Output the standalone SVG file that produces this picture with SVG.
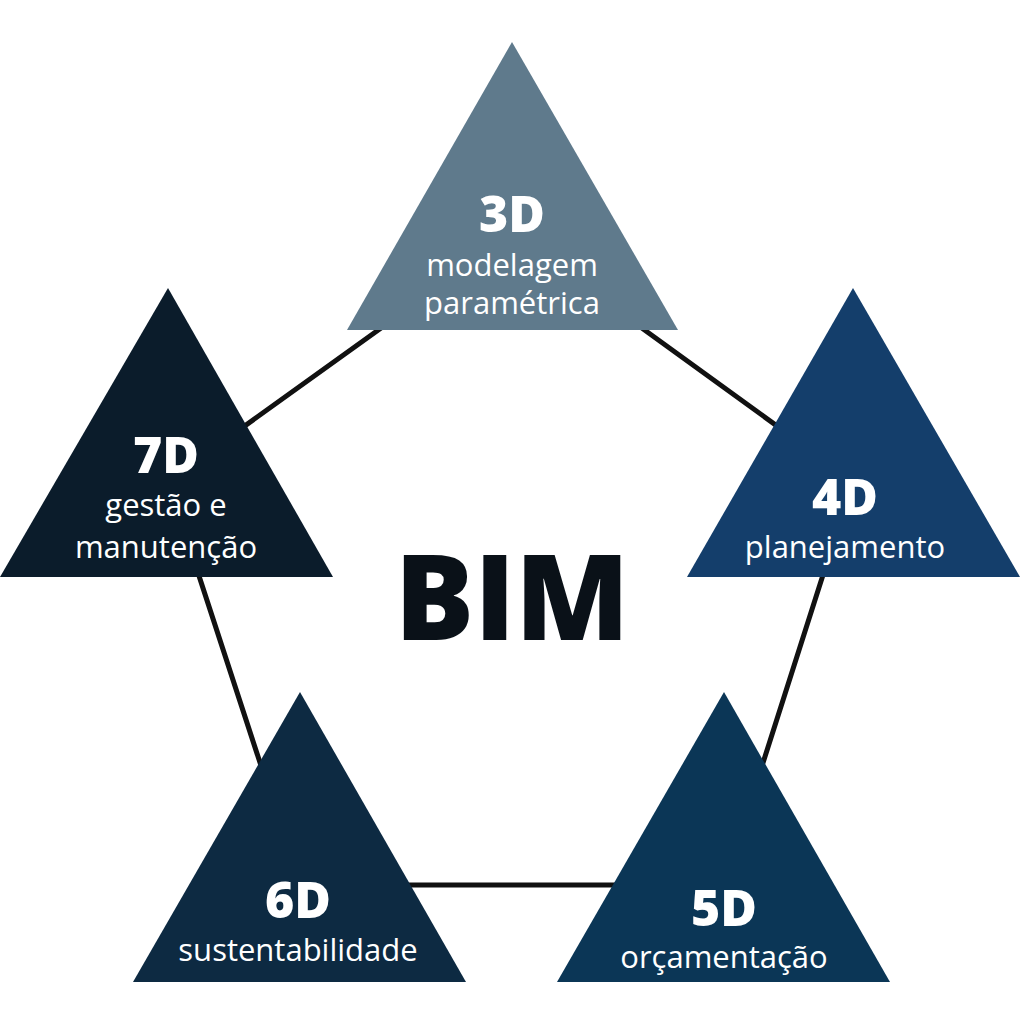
<svg xmlns="http://www.w3.org/2000/svg" width="1024" height="1024" viewBox="0 0 1024 1024">
<style>
.t{font-family:"Open Sans","DejaVu Sans",sans-serif;fill:#fff;text-anchor:middle}
.h{font-weight:800;font-size:50px}
.s{font-size:31px}
</style>
<rect width="1024" height="1024" fill="#fff"/>
<g id="connectors" stroke="#111" stroke-width="5" fill="none">
<polygon points="512,234 853,481 724,885 300,885 168,481"/>
</g>
<g id="n3d"><polygon points="512,42 347,330 678,330" fill="#5f7a8c"/>
<text class="t h" x="512" y="232">3D</text><text class="t s" x="512" y="276">modelagem</text><text class="t s" x="512" y="314">paramétrica</text></g>
<g id="n4d"><polygon points="853,288 687,577 1020,577" fill="#143e6b"/>
<text class="t h" x="845" y="515">4D</text><text class="t s" x="845" y="558">planejamento</text></g>
<g id="n5d"><polygon points="724,692 557,982 890,982" fill="#0b3656"/>
<text class="t h" x="724" y="926">5D</text><text class="t s" x="724" y="968">orçamentação</text></g>
<g id="n6d"><polygon points="300,692 133,982 466,982" fill="#0d2a42"/>
<text class="t h" x="298" y="918">6D</text><text class="t s" x="298" y="961">sustentabilidade</text></g>
<g id="n7d"><polygon points="168,288 0,577 333,577" fill="#0b1c2b"/>
<text class="t h" x="166" y="473">7D</text><text class="t s" x="166" y="516">gestão e</text><text class="t s" x="166" y="558">manutenção</text></g>
<g id="bim"><text x="512" y="640" font-family="Open Sans,DejaVu Sans,sans-serif" font-weight="800" font-size="118" fill="#0a1118" text-anchor="middle">BIM</text></g>
</svg>
